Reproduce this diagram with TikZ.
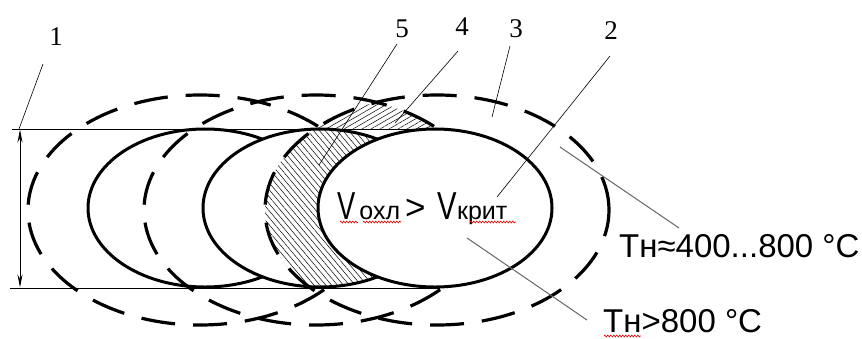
\documentclass[tikz,border=0pt]{standalone}
\usepackage{graphicx}
\usepackage{fontspec}
\setmainfont{Liberation Serif}
\newfontfamily\arialf{Liberation Sans}
\usetikzlibrary{patterns.meta,arrows.meta,decorations.pathmorphing}
\begin{document}
\begin{tikzpicture}[x=1pt,y=-1pt,
  solidell/.style={line width=3pt, draw=black},
  dashell/.style={line width=3.2pt, draw=black, dash pattern=on 34pt off 18pt},
  thinline/.style={line width=0.9pt},
  leader/.style={line width=0.6pt},
  gleader/.style={line width=1pt, draw=black!60},
  numlbl/.style={font=\fontsize{27}{27}\selectfont, inner sep=0pt, anchor=base},
  templbl/.style={font=\arialf\fontsize{33}{33}\selectfont, inner sep=0pt, anchor=base west},
  squig/.style={draw=red, line width=0.6pt, decorate, decoration={zigzag, amplitude=1pt, segment length=3pt}},
  hatchA/.style={pattern={Lines[angle=30,distance=4.5pt,line width=0.5pt]}},
  hatchB/.style={pattern={Lines[angle=-50,distance=4.5pt,line width=0.5pt]}}
]
\useasboundingbox (0,0) rectangle (862,338);
% outer (dashed) isotherms and fusion zones
\draw[dashell] (200,210) ellipse [x radius=172pt, y radius=115pt];
\draw[solidell, fill=white] (205,208) ellipse [x radius=117pt, y radius=79pt];
\draw[dashell] (316,210) ellipse [x radius=172pt, y radius=115pt];
% region 4 (upper hatched)
\begin{scope}
  \clip (0,0) rectangle (862,129);
  \clip (316,210) ellipse [x radius=172pt, y radius=115pt];
  \fill[hatchA] (437,210) ellipse [x radius=172pt, y radius=115pt];
\end{scope}
\draw[solidell, fill=white] (320,208) ellipse [x radius=117pt, y radius=79pt];
% region 5 (crescent)
\begin{scope}
  \clip (437,210) ellipse [x radius=172pt, y radius=115pt];
  \fill[hatchB] (320,208) ellipse [x radius=117pt, y radius=79pt];
\end{scope}
\draw[dashell] (437,210) ellipse [x radius=172pt, y radius=115pt];
\draw[solidell, fill=white] (435,208) ellipse [x radius=117pt, y radius=79pt];
% boundary lines of the plate
\coordinate (topL) at (12,129);
\coordinate (topR) at (440,129);
\coordinate (botL) at (10,288);
\coordinate (botR) at (440,288);
\draw[thinline] (topL) -- (topR);
\draw[thinline] (botL) -- (botR);
% dimension arrow
\coordinate (dimT) at (20,129.5);
\coordinate (dimB) at (20,287.5);
\draw[thinline, {Stealth[length=13pt,width=5pt]}-{Stealth[length=13pt,width=5pt]}] (dimT) -- (dimB);
% numbered labels with leaders
\node[numlbl] (n1) at (56,45) {1};
\node[numlbl] (n5) at (402,37) {5};
\node[numlbl] (n4) at (462,35) {4};
\node[numlbl] (n3) at (516,37) {3};
\node[numlbl] (n2) at (611,39) {2};
\coordinate (n1a) at (43,64);  \coordinate (n1b) at (19,129);
\coordinate (n5a) at (397,44); \coordinate (n5b) at (319,165);
\coordinate (n4a) at (458,51); \coordinate (n4b) at (395,123);
\coordinate (n3a) at (510,46); \coordinate (n3b) at (492,117);
\coordinate (n2a) at (610,56); \coordinate (n2b) at (497,197);
\draw[leader] (n1a) -- (n1b);
\draw[leader] (n5a) -- (n5b);
\draw[leader] (n4a) -- (n4b);
\draw[leader] (n3a) -- (n3b);
\draw[leader] (n2a) -- (n2b);
% central text
\node[anchor=base west, inner sep=0pt, font=\arialf] (vtxt) at (337,219)
  {\fontsize{39}{39}\selectfont\scalebox{0.7}[1]{V}\hspace{4pt}\fontsize{25}{25}\selectfont охл\hspace{5pt}\fontsize{35}{35}\selectfont>\hspace{12pt}\fontsize{39}{39}\selectfont\scalebox{0.75}[1]{V}\fontsize{25}{25}\selectfont крит};
\draw[squig] (340,222) -- (358,222);
\draw[squig] (363,222) -- (401,222);
\draw[squig] (470,222) -- (516,222);
% temperature labels
\node[templbl] (t1) at (619,257) {Тн≈400...800 °C};
\node[templbl] (t2) at (603,332) {Тн>800 °C};
\draw[squig] (604,336) -- (641,336);
\coordinate (t1a) at (560,147); \coordinate (t1b) at (679,228);
\coordinate (t2a) at (467,238); \coordinate (t2b) at (587,320);
\draw[gleader] (t1a) -- (t1b);
\draw[gleader] (t2a) -- (t2b);
\end{tikzpicture}
\end{document}
